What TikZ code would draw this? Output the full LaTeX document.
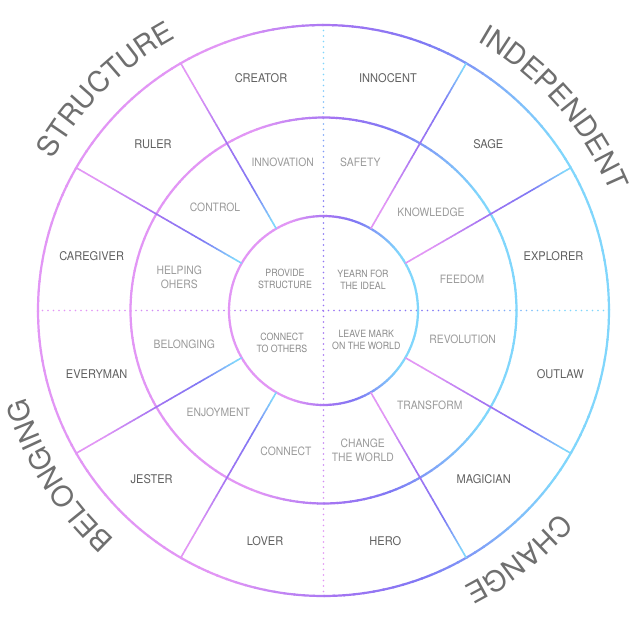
\documentclass[tikz,border=0pt]{standalone}
\usepackage{fontspec}
\usetikzlibrary{decorations.text}
\newfontfamily\fouter[FakeStretch=0.92]{TeX Gyre Heros}
\newfontfamily\fmid[FakeStretch=0.9]{TeX Gyre Heros}
\newfontfamily\finner[FakeStretch=0.88]{TeX Gyre Heros}
\newfontfamily\fbig{TeX Gyre Heros}
\definecolor{cpink}{HTML}{E296F5}
\definecolor{cpurple}{HTML}{A374F2}
\definecolor{cviolet}{HTML}{7F78F4}
\definecolor{ccyan}{HTML}{80D6FC}
\definecolor{outc}{HTML}{616161}
\definecolor{midc}{HTML}{9B9B9B}
\definecolor{innc}{HTML}{8C8C8C}
\definecolor{bigc}{HTML}{6F6F6F}
\newcommand\setgc[5]{%
  \pgfmathsetmacro\gv{#1}%
  \ifdim\gv pt<#2pt \colorlet{gc}{cpink}%
  \else\ifdim\gv pt<#3pt
    \pgfmathtruncatemacro\gp{100*(\gv-#2)/(#3-#2)}\colorlet{gc}{cpurple!\gp!cpink}%
  \else\ifdim\gv pt<#4pt
    \pgfmathtruncatemacro\gp{100*(\gv-#3)/(#4-#3)}\colorlet{gc}{cviolet!\gp!cpurple}%
  \else\ifdim\gv pt<#5pt
    \pgfmathtruncatemacro\gp{100*(\gv-#4)/(#5-#4)}\colorlet{gc}{ccyan!\gp!cviolet}%
  \else \colorlet{gc}{ccyan}\fi\fi\fi\fi}
\tikzset{
  outerlab/.style={font=\fouter\fontsize{12}{14}\selectfont, text=outc, inner sep=0pt},
  midlab/.style={font=\fmid\fontsize{11.5}{13.5}\selectfont, text=midc, align=center, inner sep=0pt},
  innerlab/.style={font=\finner\fontsize{10}{11.7}\selectfont, text=innc, align=center, inner sep=0pt},
  biglab/.style={decorate, decoration={text along path, text align=center, text color=bigc,
     text={|\fbig\fontsize{28.5}{30}\selectfont|#1}}}
}
\begin{document}
\begin{tikzpicture}[x=1pt,y=1pt]
\fill[white] (-323.5pt,-311.5pt) rectangle (313.5pt,310.5pt);
\useasboundingbox (-323.5pt,-311.5pt) rectangle (313.5pt,310.5pt);
% dotted axes
\foreach \i in {0,...,102}{
  \pgfmathsetmacro\dx{-281+5.5*\i}
  \setgc{(\dx+281)/562}{0.1}{0.45}{0.7}{0.92}
  \fill[gc] (\dx pt,0pt) circle[radius=0.85pt];
  \fill[gc] (0pt,\dx pt) circle[radius=0.85pt];
}
% circles
\foreach \R in {94.5,193,285.5}{
  \foreach \a in {0,2,...,358}{
    \setgc{(1+cos(\a+1))/2}{0.325}{0.525}{0.675}{0.9}
    \draw[gc, line width=2.2pt] (\a:\R pt) arc[start angle=\a, end angle=\a+2.3, radius=\R pt];
  }
}
% spokes
\foreach \p/\sd in {120/0,150/0,210/0,240/0,30/1,60/1,300/1,330/1}{
  \foreach \k in {0,...,39}{
    \pgfmathsetmacro\ra{94.5+4.775*\k}
    \pgfmathsetmacro\rb{min(94.5+4.775*(\k+1)+0.5,285.5)}
    \pgfmathsetmacro\sv{1-(\k+0.5)/40}
    \pgfmathsetmacro\vv{\sd==0 ? \sv : 1-\sv}
    \setgc{\vv}{0.15}{0.48}{0.76}{0.96}
    \draw[gc, line width=1.6pt] (\p:\ra pt) -- (\p:\rb pt);
  }
}
% outer ring labels
\node[outerlab] (creator) at (-62.5pt,232.5pt) {CREATOR};
\node[outerlab] (innocent) at (64.5pt,232.5pt) {INNOCENT};
\node[outerlab] (ruler) at (-170.5pt,166.5pt) {RULER};
\node[outerlab] (sage) at (164.8pt,166.5pt) {SAGE};
\node[outerlab] (caregiver) at (-231.8pt,54.5pt) {CAREGIVER};
\node[outerlab] (explorer) at (230pt,54.5pt) {EXPLORER};
\node[outerlab] (everyman) at (-226.8pt,-63.2pt) {EVERYMAN};
\node[outerlab] (outlaw) at (236.8pt,-63.2pt) {OUTLAW};
\node[outerlab] (jester) at (-171.8pt,-168.2pt) {JESTER};
\node[outerlab] (magician) at (160.2pt,-168.2pt) {MAGICIAN};
\node[outerlab] (lover) at (-58.5pt,-230.8pt) {LOVER};
\node[outerlab] (hero) at (61.8pt,-230.8pt) {HERO};
% middle ring labels
\node[midlab] (innovation) at (-40.8pt,147.8pt) {INNOVATION};
\node[midlab] (safety) at (36.8pt,147.8pt) {SAFETY};
\node[midlab] (control) at (-108.5pt,103.2pt) {CONTROL};
\node[midlab] (knowledge) at (107.5pt,97.8pt) {KNOWLEDGE};
\node[midlab] (helping) at (-144.2pt,33pt) {HELPING\\OHERS};
\node[midlab] (feedom) at (138.5pt,31.2pt) {FEEDOM};
\node[midlab] (belonging) at (-139.2pt,-34.2pt) {BELONGING};
\node[midlab] (revolution) at (139.2pt,-29.2pt) {REVOLUTION};
\node[midlab] (enjoyment) at (-105.2pt,-101.5pt) {ENJOYMENT};
\node[midlab] (transform) at (106.2pt,-94.8pt) {TRANSFORM};
\node[midlab] (connect) at (-37.5pt,-140.8pt) {CONNECT};
\node[midlab] (changeworld) at (39.3pt,-139.8pt) {CHANGE\\THE WORLD};
% inner labels
\node[innerlab] (provide) at (-38.5pt,31.3pt) {PROVIDE\\STRUCTURE};
\node[innerlab] (yearn) at (39.5pt,31pt) {YEARN FOR\\THE IDEAL};
\node[innerlab] (connectothers) at (-41.5pt,-32pt) {CONNECT\\TO OTHERS};
\node[innerlab] (leavemark) at (42.8pt,-29.7pt) {LEAVE MARK\\ON THE WORLD};
% big curved labels
\path[biglab=STRUCTURE] (174.6:310pt) arc[start angle=174.6, end angle=94.6, radius=310pt];
\path[biglab=INDEPENDENT] (81.3:310pt) arc[start angle=81.3, end angle=1.3, radius=310pt];
\path[biglab=BELONGING] (251.9:310pt) arc[start angle=251.9, end angle=171.9, radius=310pt];
\path[biglab=CHANGE] (348.2:310pt) arc[start angle=348.2, end angle=268.2, radius=310pt];
\end{tikzpicture}
\end{document}
